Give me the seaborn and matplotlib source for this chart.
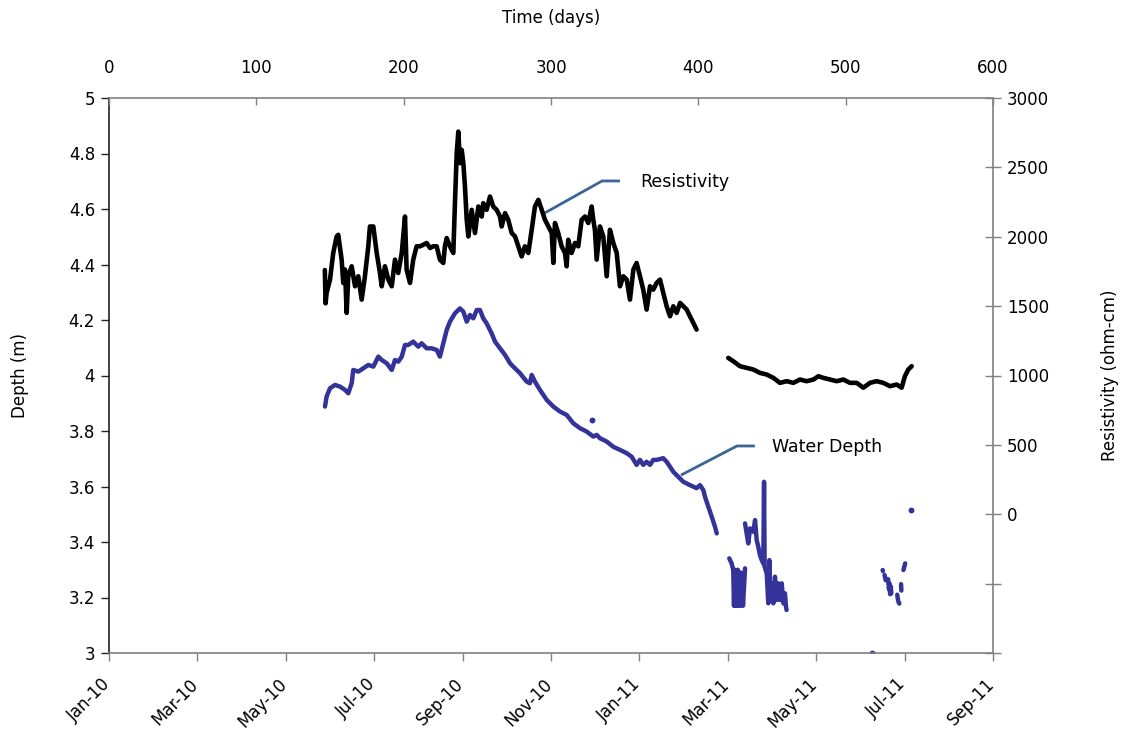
import numpy as np
import pandas as pd
import matplotlib
matplotlib.use("Agg")
import matplotlib.pyplot as plt
from matplotlib.transforms import ScaledTranslation
import seaborn as sns

# ---------------- data ----------------
month_labels = ["Jan-10", "Mar-10", "May-10", "Jul-10", "Sep-10", "Nov-10",
                "Jan-11", "Mar-11", "May-11", "Jul-11", "Sep-11"]
day_ticks = [0, 100, 200, 300, 400, 500, 600]
depth_ticks = [3, 3.2, 3.4, 3.6, 3.8, 4, 4.2, 4.4, 4.6, 4.8, 5]
res_ticks = [-1000, -500, 0, 500, 1000, 1500, 2000, 2500, 3000]

# Resistivity (ohm-cm), first logging period
res_day_1 = [146.5, 147.0, 147.7, 150.0, 152.2, 154.5, 155.6, 157.9, 159.0, 160.2,
             161.3, 162.4, 164.7, 167.0, 169.2, 171.5, 173.7, 176.0, 177.1, 179.4,
             181.7, 183.9, 185.1, 187.3, 189.6, 191.9, 194.1, 196.3, 198.7, 200.9,
             202.0, 204.3, 206.5, 208.8, 211.1, 213.3, 215.6, 217.9, 220.1, 222.4,
             224.6, 226.9, 228.0, 229.2, 231.4, 233.7, 234.8, 236.0, 237.1, 238.2,
             239.4, 240.5, 241.6, 242.8, 243.9, 246.2, 248.4, 250.7, 253.0, 254.0,
             256.3, 258.6, 260.8, 263.1, 265.4, 266.5, 268.8, 271.0, 273.3, 275.6,
             277.8, 280.1, 282.3, 284.6, 286.9, 289.1, 291.4, 293.7, 295.9, 298.2,
             300.5, 301.6, 302.7, 304.9, 307.2, 309.5, 310.6, 311.7, 314.0, 316.3,
             318.5, 320.8, 323.1, 325.3, 327.6, 328.7, 329.8, 331.0, 333.2, 335.5,
             337.8, 340.0, 342.3, 344.6, 346.8, 349.1, 351.4, 353.6, 355.9, 358.1,
             360.4, 362.6, 364.9, 367.2, 369.4, 371.7, 374.0, 376.2, 378.5, 380.8,
             383.0, 385.3, 387.6, 389.8, 392.1, 394.3, 396.6, 398.8]
res_val_1 = [1760, 1520, 1595, 1691, 1883, 2002, 2014, 1835, 1667, 1763,
             1451, 1715, 1787, 1643, 1715, 1547, 1715, 1931, 2074, 2074,
             1883, 1739, 1643, 1787, 1691, 1643, 1835, 1739, 1883, 2146,
             1763, 1667, 1835, 1931, 1931, 1942, 1955, 1919, 1931, 1931,
             1835, 1811, 1931, 1991, 1931, 1883, 2242, 2602, 2758, 2530,
             2626, 2530, 2362, 2122, 2002, 2194, 2027, 2218, 2146, 2242,
             2194, 2290, 2218, 2194, 2146, 2074, 2170, 2122, 2027, 2002,
             1931, 1858, 1931, 1883, 2050, 2218, 2266, 2194, 2122, 2074,
             2027, 1811, 2099, 2027, 1931, 1883, 1787, 1978, 1883, 1955,
             1931, 2122, 2146, 2099, 2218, 2122, 2050, 1835, 2074, 2002,
             1715, 2050, 1955, 1883, 1643, 1715, 1691, 1547, 1763, 1811,
             1715, 1619, 1475, 1643, 1619, 1667, 1691, 1595, 1499, 1427,
             1499, 1451, 1523, 1499, 1475, 1427, 1379, 1331]

# Resistivity, second logging period
res_day_2 = [420.3, 423.7, 428.3, 432.8, 437.3, 441.8, 446.4, 450.9, 455.4, 460.0,
             464.5, 469.0, 473.5, 478.1, 481.5, 484.8, 489.4, 493.9, 498.4, 502.9,
             507.5, 512.0, 516.5, 521.0, 525.5, 530.1, 534.6, 538.0, 540.2, 542.5, 544.8]
res_val_2 = [1127, 1103, 1067, 1055, 1043, 1019, 1007, 983, 947, 959,
             947, 971, 959, 971, 995, 983, 971, 959, 971, 947,
             947, 912, 947, 959, 947, 923, 935, 912, 995, 1043, 1067]

# Water depth (m), main record
dep_day_1 = [146.6, 147.7, 150.0, 153.4, 156.8, 160.2, 162.4, 164.7, 165.8, 169.2,
             172.6, 176.0, 179.4, 182.8, 185.1, 188.5, 191.9, 194.1, 196.3, 198.7,
             200.9, 203.1, 206.5, 209.9, 212.2, 215.6, 219.0, 222.4, 224.6, 226.9,
             229.2, 231.4, 234.8, 238.2, 240.5, 242.8, 245.0, 247.3, 249.6, 251.8,
             254.0, 256.3, 259.7, 262.0, 265.4, 268.8, 272.2, 274.4, 279.0, 283.5,
             285.7, 286.9, 289.1, 292.5, 297.1, 301.6, 306.1, 310.6, 315.1, 319.7,
             324.2, 328.7, 331.0, 333.2, 337.8, 342.3, 346.8, 351.4, 354.8, 358.1,
             360.4, 362.6, 364.9, 367.2, 369.4, 371.7, 376.2, 378.5, 380.8, 383.0,
             386.4, 389.8, 394.3, 398.8, 401.1, 403.4, 404.5, 406.8, 409.1, 411.3, 412.5]
dep_val_1 = [3.888, 3.924, 3.954, 3.966, 3.960, 3.948, 3.936, 3.972, 4.020, 4.014,
             4.026, 4.038, 4.032, 4.068, 4.056, 4.044, 4.020, 4.056, 4.050, 4.068,
             4.110, 4.110, 4.122, 4.104, 4.116, 4.098, 4.098, 4.092, 4.068, 4.116,
             4.164, 4.194, 4.224, 4.242, 4.230, 4.194, 4.218, 4.206, 4.236, 4.236,
             4.206, 4.188, 4.152, 4.122, 4.098, 4.074, 4.044, 4.032, 4.008, 3.978,
             3.972, 4.002, 3.978, 3.948, 3.912, 3.888, 3.870, 3.858, 3.828, 3.810,
             3.798, 3.780, 3.786, 3.774, 3.762, 3.743, 3.732, 3.720, 3.707, 3.678,
             3.696, 3.678, 3.689, 3.678, 3.696, 3.696, 3.702, 3.689, 3.671, 3.653,
             3.635, 3.617, 3.605, 3.594, 3.605, 3.587, 3.563, 3.527, 3.491, 3.455, 3.431]

# Water depth, noisy spring 2011 pieces
dep_day_a = [421.0, 422.6, 423.7, 424.2, 424.7, 425.2, 425.7, 426.2, 426.8, 427.3,
             427.8, 428.3, 428.8, 429.3, 429.8, 430.3, 431.7]
dep_val_a = [3.341, 3.323, 3.299, 3.17, 3.30, 3.17, 3.28, 3.17, 3.30, 3.17,
             3.27, 3.17, 3.29, 3.18, 3.28, 3.17, 3.305]
dep_day_b = [431.7, 432.8, 433.9, 435.1, 437.3, 438.5, 439.6, 440.7, 441.8, 443.0,
             444.1, 444.6, 445.0, 446.4, 447.5, 448.2, 448.6, 449.8, 450.9, 452.0,
             453.2, 454.3, 455.4, 456.6, 457.7, 458.8, 459.5, 459.9]
dep_val_b = [3.467, 3.431, 3.395, 3.449, 3.437, 3.479, 3.407, 3.383, 3.353, 3.335,
             3.323, 3.617, 3.311, 3.287, 3.179, 3.335, 3.191, 3.251, 3.179, 3.275,
             3.191, 3.251, 3.191, 3.251, 3.179, 3.215, 3.167, 3.155]

# Water depth, summer 2011 fragments
dep_day_c = [525.1, 525.3]
dep_val_c = [3.299, 3.295]
dep_day_d = [526.4, 527.2]
dep_val_d = [3.281, 3.262]
dep_day_e = [528.8, 529.4, 529.8, 530.2, 530.6, 531.0]
dep_val_e = [3.266, 3.230, 3.250, 3.212, 3.240, 3.215]
dep_day_f = [535.0, 535.4, 535.8, 536.4]
dep_val_f = [3.210, 3.195, 3.185, 3.178]
dep_day_g = [537.6, 537.8]
dep_val_g = [3.248, 3.225]
dep_day_h = [539.2, 540.4]
dep_val_h = [3.299, 3.323]

# isolated water-depth readings
dot_day = [327.6, 517.7, 544.1]
dot_val = [3.840, 3.001, 3.515]

# callout leaders (day, depth) and label anchors
leader_res_day = [295.9, 334.6, 346.8]
leader_res_dep = [4.586, 4.701, 4.701]
label_res = (360.4, 4.697, "Resistivity")
leader_wd_day = [388.2, 426.2, 438.4]
leader_wd_dep = [3.641, 3.746, 3.746]
label_wd = (450.0, 3.742, "Water Depth")

# ---------------- style ----------------
BLUE = "#333399"
LEADER = "#3B6593"
GRAY = "#808080"
FS = 12

sns.set_theme(style="ticks")
plt.rcParams["font.family"] = ["DejaVu Sans"]
plt.rcParams["font.size"] = FS
plt.rcParams["text.color"] = "black"
plt.rcParams["axes.labelcolor"] = "black"
plt.rcParams["xtick.color"] = "black"
plt.rcParams["ytick.color"] = "black"

fig = plt.figure(figsize=(11.29, 7.34), dpi=100)
ax = fig.add_axes([109 / 1129, 81 / 734, 884 / 1129, 555 / 734])
ax2 = ax.twinx()
ax3 = ax.twiny()

# ---------------- data frames ----------------
dep_segments = [(dep_day_1, dep_val_1), (dep_day_a, dep_val_a), (dep_day_b, dep_val_b),
                (dep_day_c, dep_val_c), (dep_day_d, dep_val_d), (dep_day_e, dep_val_e),
                (dep_day_f, dep_val_f), (dep_day_g, dep_val_g), (dep_day_h, dep_val_h)]
dep_df = pd.concat([pd.DataFrame({"day": d, "depth": v, "seg": i})
                    for i, (d, v) in enumerate(dep_segments)], ignore_index=True)
res_segments = [(res_day_1, res_val_1), (res_day_2, res_val_2)]
res_df = pd.concat([pd.DataFrame({"day": d, "res": v, "seg": i})
                    for i, (d, v) in enumerate(res_segments)], ignore_index=True)
dot_df = pd.DataFrame({"day": dot_day, "depth": dot_val})

# ---------------- plot ----------------
sns.lineplot(data=dep_df, x="day", y="depth", units="seg", estimator=None, sort=False,
             color=BLUE, lw=3.2, ax=ax, legend=False, solid_capstyle="round",
             solid_joinstyle="round")
sns.scatterplot(data=dot_df, x="day", y="depth", color=BLUE, s=18, linewidth=0,
                ax=ax, legend=False)
sns.lineplot(data=res_df, x="day", y="res", units="seg", estimator=None, sort=False,
             color="black", lw=3.3, ax=ax2, legend=False, solid_capstyle="round",
             solid_joinstyle="round")

ax.plot(leader_res_day, leader_res_dep, color=LEADER, lw=2.0, solid_capstyle="butt")
ax.plot(leader_wd_day, leader_wd_dep, color=LEADER, lw=2.0, solid_capstyle="butt")
ax.text(label_res[0], label_res[1], label_res[2], ha="left", va="center", fontsize=12.5)
ax.text(label_wd[0], label_wd[1], label_wd[2], ha="left", va="center", fontsize=12.5)

# ---------------- axes ----------------
ax.set_xlim(0, 600)
ax.set_ylim(3, 5)
ax2.set_ylim(-1000, 3000)
ax3.set_xlim(0, 600)

for a in (ax, ax2, ax3):
    for s in a.spines.values():
        s.set_visible(False)
    a.grid(False)
    a.set_facecolor("none")

ax.spines["left"].set_visible(True)
ax.spines["left"].set_color("#222222")
ax.spines["bottom"].set_visible(True)
ax.spines["bottom"].set_color(GRAY)
ax2.spines["right"].set_visible(True)
ax2.spines["right"].set_color(GRAY)
ax3.spines["top"].set_visible(True)
ax3.spines["top"].set_color(GRAY)
for a, k in ((ax, "left"), (ax, "bottom"), (ax2, "right"), (ax3, "top")):
    a.spines[k].set_linewidth(1.2)

# left depth axis
ax.set_yticks(depth_ticks)
ax.set_yticklabels([f"{t:g}" for t in depth_ticks])
ax.tick_params(axis="y", direction="out", length=6, width=1, color="#222222",
               pad=4, labelsize=FS)
ax.set_ylabel("Depth (m)", fontsize=FS)
ax.yaxis.set_label_coords(-0.09, 0.5)

# bottom date axis
ax.set_xticks(np.linspace(0, 600, len(month_labels)))
ax.set_xticklabels(month_labels, rotation=45, ha="right", va="top",
                   rotation_mode="anchor")
ax.tick_params(axis="x", direction="out", length=6, width=1, color=GRAY, pad=10,
               labelsize=FS)
offset = ScaledTranslation(-8 / 100, 0, fig.dpi_scale_trans)
for lab in ax.get_xticklabels():
    lab.set_transform(lab.get_transform() + offset)
ax.set_xlabel("")

# right resistivity axis
ax2.set_yticks(res_ticks)
ax2.set_yticklabels([str(t) if t >= 0 else "" for t in res_ticks])
ax2.tick_params(axis="y", direction="inout", length=12, width=1, color=GRAY, pad=4,
                labelsize=FS)
ax2.set_ylabel("Resistivity (ohm-cm)", fontsize=FS)
ax2.yaxis.set_label_coords(1.122, 0.5)

# top day axis
ax3.set_xticks(day_ticks)
ax3.set_xticklabels([str(t) for t in day_ticks])
ax3.tick_params(axis="x", direction="in", length=5, width=1, color=GRAY, pad=15,
                labelsize=FS)
ax3.set_xlabel("Time (days)", fontsize=FS)
ax3.xaxis.set_label_coords(0.5, 1.135)

fig.savefig("out.png", dpi=100, facecolor="white")
